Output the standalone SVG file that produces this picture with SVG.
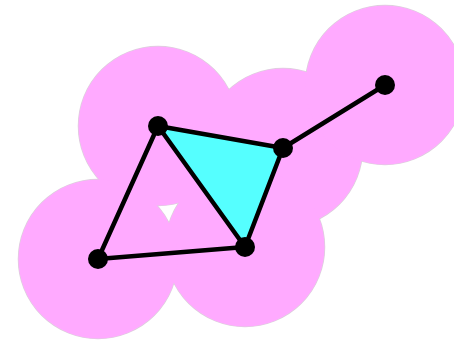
<svg xmlns="http://www.w3.org/2000/svg" width="454" height="341" viewBox="0 0 454 341">
<style>
.halo-edge{fill:none;stroke:#ddd0dd;stroke-width:1.5}
.halo{fill:#ffaaff}
.face{fill:#55ffff;stroke:none}
.edge{stroke:#000;stroke-width:4.5;stroke-linecap:round;fill:none}
.vtx{fill:#000}
</style>
<rect width="454" height="341" fill="#fff"/>
<g id="coverage">
<circle class="halo-edge" cx="158" cy="126" r="79.5"/>
<circle class="halo-edge" cx="283" cy="148" r="79.5"/>
<circle class="halo-edge" cx="385" cy="85" r="79.5"/>
<circle class="halo-edge" cx="245" cy="247" r="79.5"/>
<circle class="halo-edge" cx="98" cy="259" r="79.5"/>
<circle class="halo" cx="158" cy="126" r="79.5"/>
<circle class="halo" cx="283" cy="148" r="79.5"/>
<circle class="halo" cx="385" cy="85" r="79.5"/>
<circle class="halo" cx="245" cy="247" r="79.5"/>
<circle class="halo" cx="98" cy="259" r="79.5"/>
</g>
<g id="face">
<polygon class="face" points="158,126 283,148 245,247"/>
</g>
<g id="connectors">
<line class="edge" x1="158" y1="126" x2="283" y2="148"/>
<line class="edge" x1="283" y1="148" x2="385" y2="85"/>
<line class="edge" x1="158" y1="126" x2="245" y2="247"/>
<line class="edge" x1="283" y1="148" x2="245" y2="247"/>
<line class="edge" x1="158" y1="126" x2="98" y2="259"/>
<line class="edge" x1="98" y1="259" x2="245" y2="247"/>
</g>
<g id="v1"><circle class="vtx" cx="158" cy="126" r="10"/></g>
<g id="v2"><circle class="vtx" cx="283" cy="148" r="10"/></g>
<g id="v3"><circle class="vtx" cx="385" cy="85" r="10"/></g>
<g id="v4"><circle class="vtx" cx="245" cy="247" r="10"/></g>
<g id="v5"><circle class="vtx" cx="98" cy="259" r="10"/></g>
</svg>
